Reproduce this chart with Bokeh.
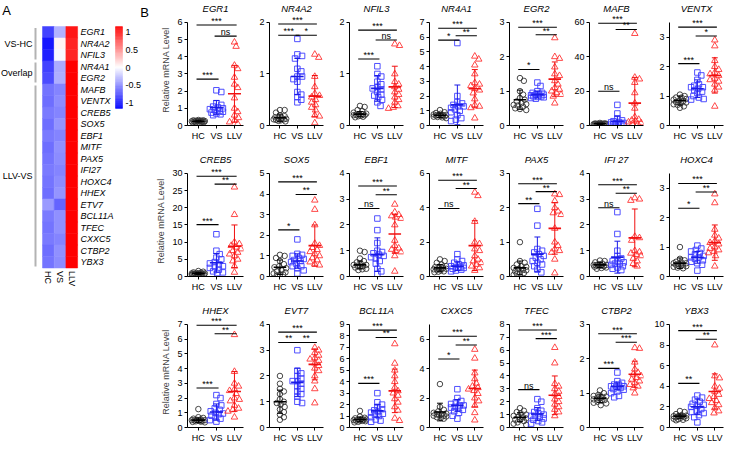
import math
import numpy as np
from bokeh.plotting import figure
from bokeh.layouts import row, column
from bokeh.models import (Range1d, FixedTicker, ColumnDataSource, LabelSet, LinearColorMapper)
from bokeh.core.properties import value
from bokeh.embed import file_html
from bokeh.resources import INLINE

FONT = "Liberation Sans"
GROUPS = ["HC", "VS", "LLV"]

# ---------------- Panel A: heatmap ----------------
HEAT_GENES = ["EGR1", "NR4A2", "NFIL3", "NR4A1", "EGR2", "MAFB", "VENTX", "CREB5", "SOX5",
              "EBF1", "MITF", "PAX5", "IFI27", "HOXC4", "HHEX", "ETV7", "BCL11A", "TFEC",
              "CXXC5", "CTBP2", "YBX3"]
HEAT_HC = [-0.85, -1.05, -1.0, -0.85, -0.8, -0.62, -0.65, -0.6, -0.65, -0.6, -0.65, -0.62,
           -0.6, -0.62, -0.65, -0.45, -0.6, -0.62, -0.6, -0.65, -0.62]
HEAT_VS = [-0.35, 0.05, -0.03, -0.38, -0.36, -0.55, -0.52, -0.55, -0.48, -0.55, -0.5, -0.52,
           -0.55, -0.52, -0.48, -0.7, -0.5, -0.5, -0.55, -0.5, -0.52]
HEAT_LLV = [1.05, 0.98, 0.98, 1.15, 1.15, 1.15, 1.15, 1.15, 1.15, 1.15, 1.15, 1.15,
            1.15, 1.15, 1.15, 1.15, 1.15, 1.15, 1.15, 1.15, 1.15]
HEAT_GROUP_NAMES = ["VS-HC", "Overlap", "LLV-VS"]
HEAT_GROUP_SIZES = [3, 2, 16]
CBAR_TICKS = [1, 0.5, 0, -0.5, -1]
CBAR_LABELS = ["1", "0.5", "0", "-0.5", "-1"]
CBAR_LOW, CBAR_HIGH = -1.15, 1.15

# ---------------- Panel B: dot plots ----------------
GENES = ["EGR1", "NR4A2", "NFIL3", "NR4A1", "EGR2", "MAFB", "VENTX",
         "CREB5", "SOX5", "EBF1", "MITF", "PAX5", "IFI 27", "HOXC4",
         "HHEX", "EVT7", "BCL11A", "CXXC5", "TFEC", "CTBP2", "YBX3"]
YMAX = [6, 2, 2, 7, 3, 60, 3.5, 30, 5, 4, 6, 3, 4, 3.5, 7, 4, 9, 7, 8, 3, 10]
YSTEP = [1, 1, 1, 1, 1, 20, 1, 5, 1, 1, 2, 1, 1, 1, 1, 1, 1, 2, 1, 1, 2]

EGR1_HC = [0.32, 0.30, 0.28, 0.27, 0.26, 0.25, 0.24, 0.23, 0.22, 0.21, 0.20, 0.19, 0.18, 0.30, 0.25]
EGR1_VS = [2.05, 1.95, 1.3, 1.2, 1.1, 1.05, 1.0, 0.95, 0.9, 0.85, 0.8, 0.75, 0.7, 0.65, 0.6]
EGR1_LLV = [4.85, 4.6, 3.5, 3.3, 2.8, 2.4, 2.2, 1.6, 1.0, 0.8, 0.6, 0.45, 0.3, 0.2, 0.1]
NR4A2_HC = [0.3, 0.3, 0.25, 0.2, 0.18, 0.16, 0.15, 0.14, 0.13, 0.12, 0.11, 0.10, 0.09, 0.08, 0.12]
NR4A2_VS = [1.68, 1.38, 1.35, 1.3, 1.1, 1.05, 0.95, 0.9, 0.85, 0.65, 0.6, 0.55, 0.5, 0.45, 0.95]
NR4A2_LLV = [1.38, 1.32, 0.95, 0.75, 0.62, 0.58, 0.55, 0.5, 0.45, 0.4, 0.35, 0.3, 0.2, 0.18, 0.05]
NFIL3_HC = [0.38, 0.36, 0.3, 0.28, 0.25, 0.23, 0.22, 0.21, 0.2, 0.19, 0.18, 0.17, 0.16, 0.22, 0.2]
NFIL3_VS = [1.15, 1.0, 0.95, 0.85, 0.8, 0.75, 0.72, 0.7, 0.65, 0.6, 0.58, 0.55, 0.5, 0.45, 0.38]
NFIL3_LLV = [1.58, 1.55, 1.0, 0.85, 0.8, 0.75, 0.7, 0.65, 0.6, 0.55, 0.5, 0.45, 0.38, 0.35, 0.33]
NR4A1_HC = [1.05, 0.9, 0.85, 0.8, 0.75, 0.72, 0.7, 0.68, 0.65, 0.62, 0.6, 0.58, 0.55, 0.5, 0.7]
NR4A1_VS = [5.6, 2.0, 1.6, 1.5, 1.4, 1.3, 1.2, 1.0, 0.9, 0.7, 0.5, 0.4, 0.3, 1.1, 1.3]
NR4A1_LLV = [4.7, 4.5, 4.1, 3.5, 2.9, 2.8, 2.7, 2.5, 2.4, 2.2, 1.8, 1.4, 1.3, 1.2, 0.5]
EGR2_HC = [1.38, 1.3, 1.0, 0.9, 0.8, 0.75, 0.7, 0.65, 0.6, 0.58, 0.55, 0.5, 0.48, 0.45, 0.62]
EGR2_VS = [1.25, 1.15, 1.0, 0.95, 0.92, 0.9, 0.88, 0.85, 0.83, 0.8, 0.78, 0.9, 0.85, 0.95, 0.82]
EGR2_LLV = [2.55, 2.0, 1.95, 1.7, 1.5, 1.45, 1.3, 1.2, 1.1, 1.05, 1.0, 0.95, 0.9, 0.85, 0.65]
MAFB_HC = [1.5, 1.2, 1.0, 0.9, 0.8, 0.7, 0.6, 0.5, 0.5, 0.4, 1.0, 0.8, 1.3, 0.6, 0.7]
MAFB_VS = [12, 7, 4, 3, 2.5, 2, 1.8, 1.5, 1.2, 1.0, 0.8, 0.6, 0.5, 0.4, 0.3]
MAFB_LLV = [53.5, 28, 27, 25, 19, 13, 10, 5, 3.5, 3, 2.5, 2, 1.5, 1, 0.8]
VENTX_HC = [1.05, 1.0, 0.95, 0.9, 0.88, 0.85, 0.83, 0.8, 0.78, 0.75, 0.72, 0.7, 0.65, 0.6, 0.95]
VENTX_VS = [1.8, 1.7, 1.55, 1.4, 1.35, 1.3, 1.25, 1.2, 1.15, 1.1, 1.0, 0.95, 0.9, 0.88, 1.3]
VENTX_LLV = [2.9, 2.7, 2.2, 2.0, 1.9, 1.8, 1.75, 1.7, 1.6, 1.55, 1.5, 1.4, 1.3, 1.2, 0.65]
CREB5_HC = [1.6, 1.4, 1.2, 1.1, 1.0, 0.9, 0.85, 0.8, 0.75, 0.7, 0.6, 0.5, 0.9, 0.8, 0.7]
CREB5_VS = [12.3, 7.5, 6.5, 5.5, 5.0, 4.2, 3.8, 3.5, 3.0, 2.5, 2.0, 1.5, 1.2, 1.0, 2.8]
CREB5_LLV = [26, 18, 10, 9.5, 9, 8.5, 8, 7.5, 7, 6.5, 6, 5, 4.5, 3, 1.2]
SOX5_HC = [1.05, 1.0, 0.9, 0.75, 0.6, 0.5, 0.45, 0.4, 0.3, 0.25, 0.2, 0.15, 0.1, 0.1, 0.05]
SOX5_VS = [1.8, 1.1, 1.05, 1.0, 0.9, 0.85, 0.8, 0.75, 0.7, 0.6, 0.5, 0.4, 0.3, 0.15, 0.5]
SOX5_LLV = [3.7, 3.25, 2.5, 1.6, 1.5, 1.4, 1.3, 1.2, 1.1, 1.0, 0.9, 0.8, 0.7, 0.6, 0.55]
EBF1_HC = [1.0, 0.95, 0.7, 0.6, 0.55, 0.5, 0.45, 0.42, 0.4, 0.38, 0.35, 0.3, 0.28, 0.25, 0.45]
EBF1_VS = [2.25, 1.8, 1.3, 1.0, 0.95, 0.9, 0.85, 0.8, 0.75, 0.7, 0.6, 0.5, 0.3, 0.1, 0.2]
EBF1_LLV = [2.8, 2.5, 2.4, 2.35, 2.3, 2.25, 2.0, 1.4, 1.2, 1.1, 1.05, 1.0, 0.95, 0.8, 0.2]
MITF_HC = [1.0, 0.9, 0.8, 0.7, 0.6, 0.55, 0.5, 0.45, 0.42, 0.4, 0.35, 0.3, 0.28, 0.25, 0.5]
MITF_VS = [1.3, 1.0, 0.9, 0.8, 0.7, 0.65, 0.6, 0.55, 0.5, 0.45, 0.4, 0.35, 0.3, 0.5, 0.55]
MITF_LLV = [4.9, 4.7, 3.2, 2.0, 1.9, 1.6, 1.5, 1.2, 1.0, 0.9, 0.8, 0.7, 0.6, 0.5, 0.35]
PAX5_HC = [1.0, 0.45, 0.4, 0.35, 0.3, 0.28, 0.25, 0.22, 0.2, 0.18, 0.15, 0.12, 0.1, 0.08, 0.05]
PAX5_VS = [1.97, 1.48, 0.8, 0.75, 0.7, 0.65, 0.6, 0.55, 0.5, 0.45, 0.4, 0.35, 0.3, 0.2, 0.12]
PAX5_LLV = [2.4, 2.38, 2.2, 2.0, 1.9, 1.85, 1.8, 1.4, 1.0, 0.9, 0.8, 0.75, 0.7, 0.5, 0.1]
IFI27_HC = [0.62, 0.6, 0.55, 0.5, 0.48, 0.45, 0.43, 0.42, 0.4, 0.38, 0.35, 0.33, 0.3, 0.45, 0.4]
IFI27_VS = [2.5, 1.65, 1.0, 0.8, 0.7, 0.6, 0.55, 0.5, 0.45, 0.4, 0.35, 0.3, 0.25, 0.5, 0.6]
IFI27_LLV = [3.05, 3.0, 2.95, 1.55, 1.5, 1.4, 1.0, 0.95, 0.9, 0.85, 0.8, 0.7, 0.6, 0.5, 0.4]
HOXC4_HC = [1.0, 0.6, 0.55, 0.5, 0.48, 0.45, 0.42, 0.4, 0.38, 0.35, 0.33, 0.3, 0.28, 0.4, 0.45]
HOXC4_VS = [1.05, 0.95, 0.9, 0.85, 0.8, 0.75, 0.7, 0.65, 0.6, 0.55, 0.5, 0.45, 0.4, 0.2, 0.65]
HOXC4_LLV = [2.8, 2.5, 1.6, 1.4, 1.3, 1.2, 1.15, 1.1, 1.0, 0.95, 0.9, 0.85, 0.8, 0.7, 0.35]
HHEX_HC = [1.25, 0.7, 0.65, 0.6, 0.55, 0.52, 0.5, 0.48, 0.45, 0.42, 0.4, 0.38, 0.35, 0.5, 0.45]
HHEX_VS = [2.2, 2.0, 1.6, 1.5, 1.3, 1.2, 1.1, 1.0, 0.95, 0.9, 0.8, 0.6, 0.5, 0.4, 0.7]
HHEX_LLV = [6.3, 3.8, 3.0, 2.8, 2.6, 2.5, 2.3, 2.0, 1.9, 1.8, 1.5, 1.3, 1.2, 1.1, 0.7]
EVT7_HC = [2.0, 1.7, 1.5, 1.4, 1.3, 1.1, 1.0, 0.95, 0.9, 0.8, 0.7, 0.6, 0.5, 0.4, 0.3]
EVT7_VS = [3.0, 2.2, 2.1, 2.0, 1.9, 1.8, 1.7, 1.6, 1.5, 1.4, 1.3, 1.2, 1.0, 0.95, 1.8]
EVT7_LLV = [3.1, 3.0, 2.9, 2.8, 2.7, 2.65, 2.6, 2.5, 2.4, 2.3, 2.2, 2.0, 1.8, 1.5, 0.95]
BCL11A_HC = [1.45, 0.95, 0.85, 0.8, 0.75, 0.7, 0.68, 0.65, 0.6, 0.58, 0.55, 0.5, 0.45, 0.6, 0.7]
BCL11A_VS = [3.0, 2.2, 2.0, 1.8, 1.6, 1.5, 1.4, 1.3, 1.2, 1.1, 1.0, 0.9, 0.7, 0.5, 0.6]
BCL11A_LLV = [7.3, 5.6, 5.0, 4.5, 4.0, 3.5, 3.2, 3.0, 2.8, 2.5, 2.2, 1.8, 1.5, 0.8, 0.6]
CXXC5_HC = [2.95, 1.4, 1.2, 1.1, 1.0, 0.95, 0.9, 0.85, 0.8, 0.75, 0.7, 0.65, 0.6, 0.9, 0.8]
CXXC5_VS = [2.6, 2.0, 1.8, 1.7, 1.6, 1.5, 1.4, 1.35, 1.3, 1.2, 1.1, 1.0, 0.8, 0.6, 1.5]
CXXC5_LLV = [5.3, 4.7, 3.7, 3.3, 3.0, 2.8, 2.7, 2.6, 2.5, 2.3, 2.0, 1.8, 1.5, 1.0, 0.5]
TFEC_HC = [1.5, 1.3, 1.2, 1.1, 1.0, 0.9, 0.85, 0.8, 0.7, 0.6, 0.5, 0.4, 0.3, 0.2, 0.6]
TFEC_VS = [2.2, 2.0, 1.5, 1.3, 1.2, 1.1, 1.0, 0.9, 0.8, 0.7, 0.6, 0.5, 0.4, 0.3, 0.9]
TFEC_LLV = [6.2, 5.0, 3.4, 3.2, 3.0, 2.8, 2.6, 2.4, 2.2, 2.0, 1.8, 1.6, 1.4, 1.2, 0.9]
CTBP2_HC = [1.08, 1.0, 0.95, 0.92, 0.9, 0.88, 0.85, 0.82, 0.8, 0.78, 0.75, 0.72, 0.7, 0.65, 0.85]
CTBP2_VS = [1.6, 1.35, 1.3, 1.25, 1.2, 1.18, 1.15, 1.12, 1.1, 1.05, 1.0, 0.92, 0.88, 1.2, 1.25]
CTBP2_LLV = [2.32, 2.3, 1.9, 1.7, 1.6, 1.55, 1.5, 1.45, 1.4, 1.35, 1.3, 1.25, 1.2, 1.15, 1.0]
YBX3_HC = [1.6, 1.5, 1.3, 1.2, 1.15, 1.1, 1.05, 1.0, 0.95, 0.9, 0.85, 0.8, 0.75, 0.7, 1.1]
YBX3_VS = [3.1, 2.9, 2.7, 2.5, 2.3, 2.1, 2.0, 1.8, 1.6, 1.5, 1.4, 1.2, 1.0, 0.5, 2.2]
YBX3_LLV = [8.0, 5.0, 4.8, 4.0, 3.8, 3.5, 3.2, 3.0, 2.8, 2.6, 2.4, 2.2, 1.9, 1.6, 1.4]

MEAN_HC = [0.25, 0.15, 0.22, 0.7, 0.75, 1.0, 0.85, 0.9, 0.45, 0.45, 0.5, 0.25, 0.45, 0.45,
           0.5, 1.0, 0.7, 1.05, 0.8, 0.85, 1.1]
SD_HC = [0.05, 0.07, 0.05, 0.15, 0.28, 0.4, 0.15, 0.3, 0.35, 0.15, 0.2, 0.2, 0.1, 0.18,
         0.15, 0.45, 0.2, 0.6, 0.35, 0.12, 0.2]
MEAN_VS = [1.05, 0.95, 0.72, 1.4, 0.9, 2.5, 1.25, 4.0, 0.75, 0.85, 0.6, 0.65, 0.75, 0.65,
           1.05, 1.75, 1.45, 1.5, 1.05, 1.2, 2.0]
SD_VS = [0.4, 0.35, 0.25, 1.35, 0.1, 3.0, 0.3, 2.7, 0.35, 0.65, 0.25, 0.5, 0.62, 0.2,
         0.55, 0.55, 0.55, 0.4, 0.5, 0.1, 0.75]
MEAN_LLV = [1.85, 0.57, 0.75, 2.5, 1.35, 13, 1.7, 8.8, 1.5, 1.65, 1.8, 1.4, 1.5, 1.15,
            2.45, 2.45, 3.2, 2.65, 2.5, 1.55, 3.5]
SD_LLV = [1.65, 0.4, 0.4, 1.3, 0.5, 15, 0.6, 6.2, 1.0, 0.75, 1.45, 0.75, 1.12, 0.6,
          1.35, 0.6, 1.9, 1.25, 1.5, 0.38, 1.7]

# significance brackets: HC-LLV, VS-LLV, HC-VS (level in data units, label)
SIG_HC_LLV_Y = [5.85, 1.97, 1.85, 6.6, 2.86, 59.5, 3.34, 29.2, 4.59, 3.51, 5.6, 2.7, 3.56, 3.16,
                6.94, 3.7, 8.5, 6.2, 7.57, 2.73, 9.4]
SIG_HC_LLV_TXT = ["***"] * 21
SIG_VS_LLV_Y = [5.2, 1.75, 1.66, 6.1, 2.64, 55.9, 3.04, 26.9, 3.98, 3.17, 5.12, 2.47, 3.23, 2.87,
                6.37, 3.3, 7.86, 5.6, 6.9, 2.48, 8.56]
SIG_VS_LLV_TXT = ["ns", "*", "ns", "**", "**", "**", "*", "**", "**", "**", "**", "**", "**", "**",
                  "**", "**", "**", "**", "***", "***", "**"]
SIG_HC_VS_Y = [2.7, 1.75, 1.29, 5.8, 1.63, 19.9, 2.1, 15.1, 2.26, 2.64, 3.96, 2.12, 2.67, 2.32,
               2.68, 3.3, 3.85, 4.65, 2.94, 1.72, 4.28]
SIG_HC_VS_TXT = ["***", "***", "***", "*", "*", "ns", "***", "***", "*", "ns", "ns", "**", "ns", "*",
                 "***", "**", "***", "*", "ns", "***", "**"]

VALUES = [
    (EGR1_HC, EGR1_VS, EGR1_LLV), (NR4A2_HC, NR4A2_VS, NR4A2_LLV), (NFIL3_HC, NFIL3_VS, NFIL3_LLV),
    (NR4A1_HC, NR4A1_VS, NR4A1_LLV), (EGR2_HC, EGR2_VS, EGR2_LLV), (MAFB_HC, MAFB_VS, MAFB_LLV),
    (VENTX_HC, VENTX_VS, VENTX_LLV), (CREB5_HC, CREB5_VS, CREB5_LLV), (SOX5_HC, SOX5_VS, SOX5_LLV),
    (EBF1_HC, EBF1_VS, EBF1_LLV), (MITF_HC, MITF_VS, MITF_LLV), (PAX5_HC, PAX5_VS, PAX5_LLV),
    (IFI27_HC, IFI27_VS, IFI27_LLV), (HOXC4_HC, HOXC4_VS, HOXC4_LLV), (HHEX_HC, HHEX_VS, HHEX_LLV),
    (EVT7_HC, EVT7_VS, EVT7_LLV), (BCL11A_HC, BCL11A_VS, BCL11A_LLV), (CXXC5_HC, CXXC5_VS, CXXC5_LLV),
    (TFEC_HC, TFEC_VS, TFEC_LLV), (CTBP2_HC, CTBP2_VS, CTBP2_LLV), (YBX3_HC, YBX3_VS, YBX3_LLV),
]
MEANS = [MEAN_HC, MEAN_VS, MEAN_LLV]
SDS = [SD_HC, SD_VS, SD_LLV]

MARKERS = ["circle", "square", "triangle"]
SIZES = [5.5, 5.5, 6.5]
PT_COLORS = ["#333333", "#3c3cff", "#ff3333"]
BAR_COLORS = ["#000000", "#1a1ae6", "#f01010"]

ROW_H = 151
TOP_B, BOT_B, HEAD = 13, 26, 8
XR = (-0.6, 2.5)
HEAT_W, HEAT_H = 150, 303
COL1_W = 97
COL_W = 80


def swarm(vals, pxx, pxy, r=4.6, maxoff=0.36):
    order = np.argsort(-np.asarray(vals), kind="stable")
    cands = [0.0]
    for k in range(1, 12):
        cands += [k * 0.045, -k * 0.045]
    cands = [c for c in cands if abs(c) <= maxoff]
    placed = []
    offs = np.zeros(len(vals))
    for i in order:
        y = vals[i] * pxy
        best, bestd = 0.0, -1.0
        for c in cands:
            x = c * pxx
            d = min([math.hypot(x - a, y - b) for a, b in placed], default=1e9)
            if d >= r:
                best = c
                break
            if d > bestd:
                bestd, best = d, c
        offs[i] = best
        placed.append((best * pxx, y))
    return offs


def make_panel(i, col):
    lb = 37 if col == 0 else 22
    w = COL1_W if col == 0 else COL_W
    rb = 4
    fw = w - lb - rb
    fh = ROW_H - TOP_B - BOT_B
    ymax = YMAX[i]
    pxx = fw / (XR[1] - XR[0])
    pxy = (fh - HEAD) / ymax
    p = figure(width=w, height=ROW_H, x_range=Range1d(*XR),
               y_range=Range1d(0, ymax + HEAD / pxy),
               output_backend="svg", toolbar_location=None, title=GENES[i],
               min_border_left=lb, min_border_right=rb, min_border_top=TOP_B,
               min_border_bottom=BOT_B)
    p.title.text_font = FONT
    p.title.text_font_style = "italic"
    p.title.text_font_size = "9.5px"
    p.title.align = "center"
    p.title.standoff = 1
    p.title.text_color = "#000000"
    p.outline_line_color = None
    p.grid.visible = False
    p.background_fill_color = None
    p.border_fill_color = None

    for ax in (p.xaxis[0], p.yaxis[0]):
        ax.axis_line_color = "black"
        ax.axis_line_width = 1
        ax.major_tick_line_color = "black"
        ax.major_tick_in = 0
        ax.major_tick_out = 3
        ax.minor_tick_line_color = None
        ax.major_label_text_font = FONT
        ax.major_label_text_font_size = "9px"
        ax.major_label_text_color = "black"
        ax.major_label_standoff = 2
    p.xaxis.ticker = FixedTicker(ticks=[0, 1, 2])
    p.xaxis.major_label_overrides = {0: GROUPS[0], 1: GROUPS[1], 2: GROUPS[2]}
    p.yaxis.ticker = FixedTicker(ticks=list(np.arange(0, ymax + 1e-9, YSTEP[i])))
    p.yaxis.bounds = (0, ymax)
    if col == 0:
        p.yaxis.axis_label = "Relative mRNA Level"
        p.yaxis.axis_label_text_font = FONT
        p.yaxis.axis_label_text_font_style = "normal"
        p.yaxis.axis_label_text_font_size = "9px"
        p.yaxis.axis_label_standoff = 3

    for g in range(3):
        vals = np.asarray(VALUES[i][g], dtype=float)
        offs = swarm(vals, pxx, pxy)
        src = ColumnDataSource(dict(x=g + offs, y=vals))
        p.scatter("x", "y", source=src, marker=MARKERS[g], size=SIZES[g], fill_color=None,
                  line_color=PT_COLORS[g], line_width=0.9)
    for g in range(3):
        m = MEANS[g][i]
        s = SDS[g][i]
        c = BAR_COLORS[g]
        p.segment(x0=[g - 0.36], y0=[m], x1=[g + 0.36], y1=[m], line_color=c, line_width=1.6)
        p.segment(x0=[g], y0=[m - s], x1=[g], y1=[m + s], line_color=c, line_width=1.0)
        p.segment(x0=[g - 0.17, g - 0.17], y0=[m - s, m + s], x1=[g + 0.17, g + 0.17],
                  y1=[m - s, m + s], line_color=c, line_width=1.0)

    pairs = [(0, 2, SIG_HC_LLV_Y[i], SIG_HC_LLV_TXT[i]),
             (1, 2, SIG_VS_LLV_Y[i], SIG_VS_LLV_TXT[i]),
             (0, 1, SIG_HC_VS_Y[i], SIG_HC_VS_TXT[i])]
    bx0 = [a - 0.1 for a, b, y, t in pairs]
    bx1 = [b + 0.12 for a, b, y, t in pairs]
    by = [y for a, b, y, t in pairs]
    bt = [t for a, b, y, t in pairs]
    bxm = [(x0 + x1) / 2 for x0, x1 in zip(bx0, bx1)]
    p.segment(x0=bx0, y0=by, x1=bx1, y1=by, line_color="black", line_width=1.1)
    lsrc = ColumnDataSource(dict(x=bxm, y=by, t=bt))
    p.add_layout(LabelSet(x="x", y="y", text="t", source=lsrc, text_align="center",
                          text_baseline="alphabetic", y_offset=1, text_font=value(FONT),
                          text_font_size=value("9px"), text_color="black"))
    return p


def make_heat():
    n = len(HEAT_GENES)
    pal = []
    for k in range(256):
        t = k / 255 * 2 - 1
        if t < 0:
            r = g = int(round(255 * (1 + t)))
            b = 255
        else:
            r = 255
            g = b = int(round(255 * (1 - t)))
        pal.append("#%02x%02x%02x" % (r, g, b))
    mapper = LinearColorMapper(palette=pal, low=CBAR_LOW, high=CBAR_HIGH)

    cw, rh = 11.7, 11.5        # pixels per cell column / row
    left_px, top_px = 42, 26   # where the cell block starts inside this canvas
    p = figure(width=HEAT_W, height=HEAT_H,
               x_range=Range1d(-left_px / cw, (HEAT_W - left_px) / cw),
               y_range=Range1d((HEAT_H - top_px) / rh, -top_px / rh),
               output_backend="svg", toolbar_location=None,
               min_border=0, min_border_left=0, min_border_right=0,
               min_border_top=0, min_border_bottom=0)
    p.axis.visible = False
    p.grid.visible = False
    p.outline_line_color = None

    xs, ys, vs = [], [], []
    for j, colv in enumerate([HEAT_HC, HEAT_VS, HEAT_LLV]):
        for k, v in enumerate(colv):
            xs.append(j + 0.5)
            ys.append(k + 0.5)
            vs.append(v)
    src = ColumnDataSource(dict(x=xs, y=ys, v=vs))
    p.rect("x", "y", 1, 1, source=src, fill_color={"field": "v", "transform": mapper},
           line_color={"field": "v", "transform": mapper}, line_width=0.5)

    # gene names (right of the cells)
    p.text(x=[3 + 3 / cw] * n, y=[k + 0.5 for k in range(n)], text=HEAT_GENES,
           text_font=value(FONT), text_font_style="italic", text_font_size="9px",
           text_baseline="middle", text_align="left", text_color="black")

    # column names (below, rotated)
    p.text(x=[j + 0.5 for j in range(3)], y=[n + 3 / rh] * 3, text=GROUPS,
           angle=-math.pi / 2, text_font=value(FONT), text_font_size="9px",
           text_baseline="middle", text_align="left", text_color="black")

    # gene groups with grey brackets
    start = 0
    gy0, gy1, gc = [], [], []
    for size in HEAT_GROUP_SIZES:
        gy0.append(start + 0.12)
        gy1.append(start + size - 0.12)
        gc.append(start + size / 2)
        start += size
    p.segment(x0=[-7 / cw] * 3, y0=gy0, x1=[-7 / cw] * 3, y1=gy1,
              line_color="#b3b3b3", line_width=2)
    p.text(x=[-10 / cw] * 3, y=gc, text=HEAT_GROUP_NAMES, text_font=value(FONT),
           text_font_size="9px", text_baseline="middle", text_align="right",
           text_color="black")

    # colour key
    cb_x0, cb_x1 = (115 - left_px) / cw, (122 - left_px) / cw
    cb_h = 82 / rh
    steps = np.linspace(CBAR_HIGH, CBAR_LOW, 120)
    step_h = cb_h / len(steps)
    csrc = ColumnDataSource(dict(x=[(cb_x0 + cb_x1) / 2] * len(steps),
                                 y=[(k + 0.5) * step_h for k in range(len(steps))],
                                 v=list(steps)))
    p.rect("x", "y", cb_x1 - cb_x0, step_h * 1.05, source=csrc,
           fill_color={"field": "v", "transform": mapper},
           line_color={"field": "v", "transform": mapper}, line_width=0.3)
    ty = [(CBAR_HIGH - t) / (CBAR_HIGH - CBAR_LOW) * cb_h for t in CBAR_TICKS]
    p.text(x=[cb_x1 + 3 / cw] * len(ty), y=ty, text=CBAR_LABELS, text_font=value(FONT),
           text_font_size="9px", text_baseline="middle", text_align="left",
           text_color="black")

    # panel letters
    p.text(x=[(6 - left_px) / cw, (144 - left_px) / cw], y=[(10 - top_px) / rh, (12 - top_px) / rh],
           text=["A", "B"], text_font=value(FONT), text_font_size="13px",
           text_baseline="middle", text_align="center", text_color="black")
    return p


heat = make_heat()
rows = []
for r in range(3):
    figs = [make_panel(r * 7 + c, c) for c in range(7)]
    rows.append(row(*figs, spacing=0))
layout = row(heat, column(*rows, spacing=0), spacing=0)

open("out.html", "w").write(file_html(layout, INLINE))
